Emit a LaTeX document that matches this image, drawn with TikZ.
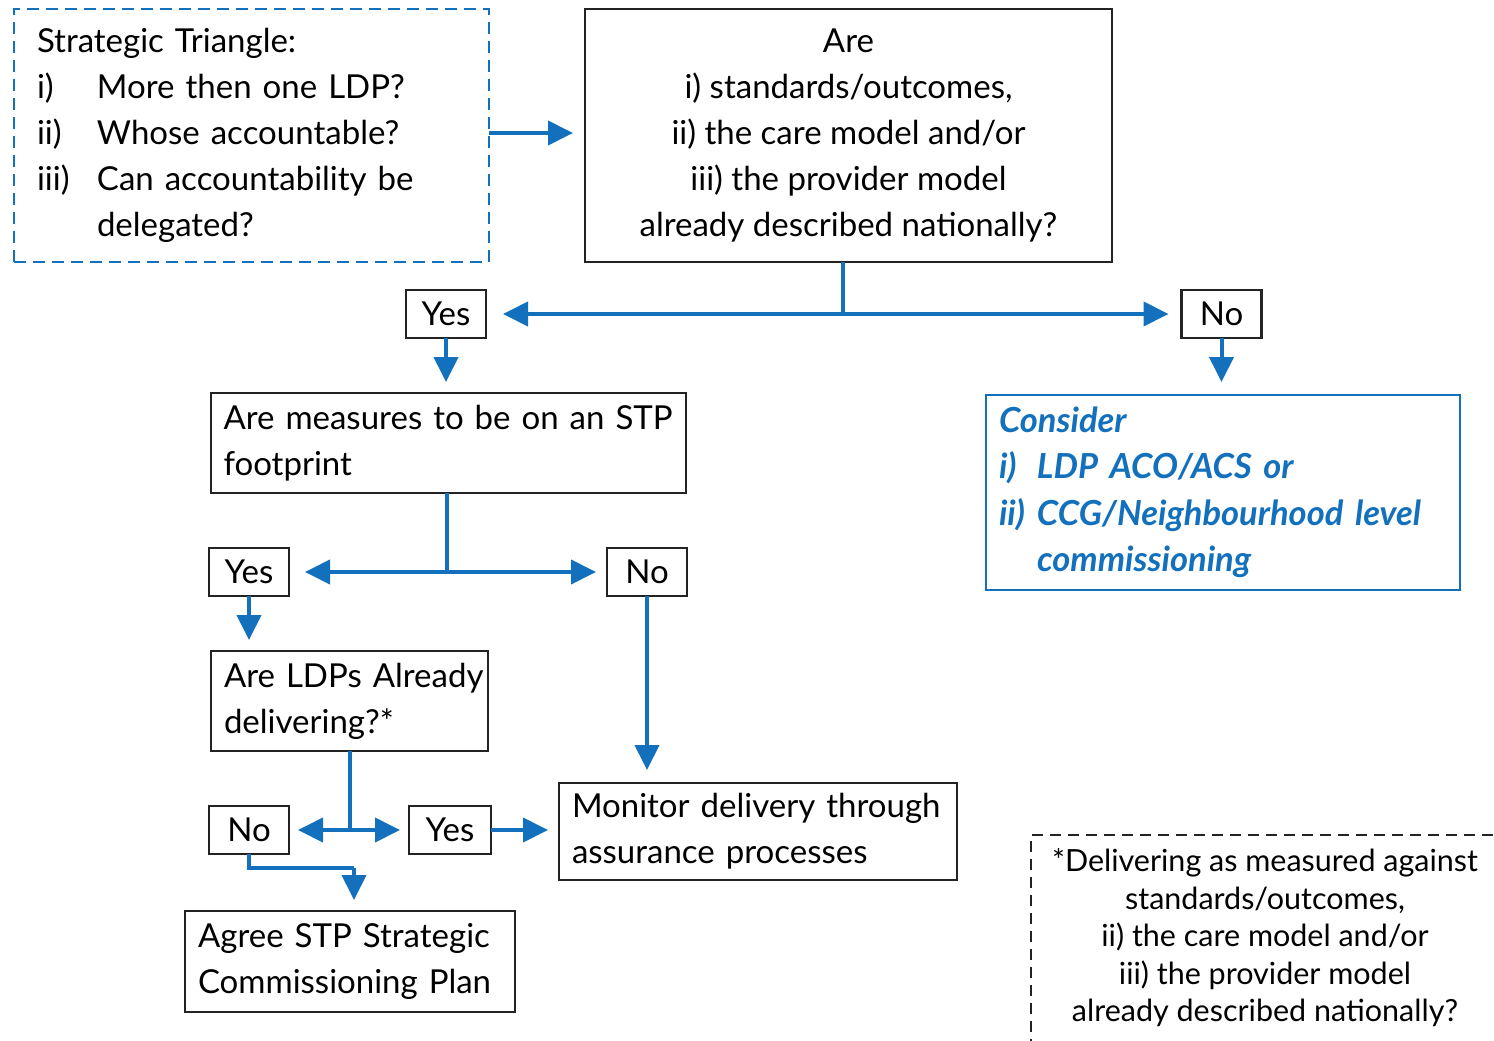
\documentclass[tikz,border=0pt]{standalone}
\usepackage{fontspec}
\setmainfont{Lato}
\usetikzlibrary{arrows.meta,calc}
\definecolor{flowblue}{RGB}{18,112,188}
\definecolor{boxline}{RGB}{35,35,35}
\begin{document}
\begin{tikzpicture}[x=1pt,y=-1pt,
  every node/.style={inner sep=0pt,outer sep=0pt},
  txt/.style={font=\fontsize{33}{46}\selectfont},
  smalltxt/.style={font=\fontsize{30.5}{37.5}\selectfont},
  frame/.style={draw=boxline,line width=2.6pt,rectangle,txt},
  ansbox/.style={frame,minimum width=80pt,minimum height=48pt},
  flow/.style={draw=flowblue,line width=4pt,-{Triangle[length=25pt,width=24pt]}},
  plain/.style={draw=flowblue,line width=4pt}]
\useasboundingbox (0,0) rectangle (1494,1041);

% strategic triangle box
\node[draw=flowblue,line width=2.4pt,dash pattern=on 12pt off 7pt,txt,
      minimum width=475pt,minimum height=253pt,text width=429pt,align=left]
  (tri) at (251.5,135.5)
  {\begin{tabular}{@{}p{60pt}@{}l@{}}
   \multicolumn{2}{@{}l@{}}{Strategic Triangle:}\\
   i) & More then one LDP?\\
   ii) & Whose accountable?\\
   iii) & Can accountability be\\
        & delegated?
   \end{tabular}};

% main question
\node[frame,minimum width=527pt,minimum height=253pt,align=center]
  (are) at (848.5,135.5)
  {Are\\ i) standards/outcomes,\\ ii) the care model and/or\\ iii) the provider model\\ already described nationally?};

\node[ansbox] (yes1) at (446,314) {Yes};
\node[ansbox] (no1) at (1221.5,314) {No};

\node[frame,minimum width=475pt,minimum height=100pt,text width=450pt,align=left]
  (meas) at (448.5,443) {Are measures to be on an STP\\ footprint};

\node[draw=flowblue,line width=2.2pt,rectangle,minimum width=474pt,minimum height=195pt,
      text width=448pt,align=left,text=flowblue,
      font=\fontsize{34.5}{46.5}\selectfont\bfseries\itshape]
  (cons) at (1223,492.5)
  {\begin{tabular}{@{}p{38pt}@{}l@{}}
   \multicolumn{2}{@{}l@{}}{Consider}\\
   i) & LDP ACO/ACS or\\
   ii) & CCG/Neighbourhood level\\
       & commissioning
   \end{tabular}};

\node[ansbox] (yes2) at (249,572) {Yes};
\node[ansbox] (no2) at (647,572) {No};

\node[frame,minimum width=277pt,minimum height=100pt,text width=251pt,align=left]
  (ldp) at (349.5,701) {\mbox{Are LDPs Already}\\ delivering?*};

\node[frame,minimum width=398pt,minimum height=97pt,text width=372pt,align=left]
  (mon) at (758,831.5) {Monitor delivery through\\ assurance processes};

\node[ansbox] (no3) at (249,830) {No};
\node[ansbox,minimum width=82pt] (yes3) at (450,830) {Yes};

\node[frame,minimum width=330pt,minimum height=101pt,text width=304pt,align=left]
  (agree) at (350,961.5) {Agree STP Strategic\\ Commissioning Plan};

% footnote box, running off the page edges
\draw[boxline,line width=2.2pt,dash pattern=on 11pt off 7pt]
  (1031,1050) -- (1031,835) -- (1500,835);
\node[smalltxt,align=center] (note) at (1265,938)
  {*Delivering as measured against\\ standards/outcomes,\\ ii) the care model and/or\\ iii) the provider model\\ already described nationally?};

% junctions
\coordinate (j1) at (843,314);
\coordinate (j2) at (447,572);
\coordinate (j3) at (ldp.south |- no3);
\coordinate (k) at (354,868);

% connectors
\draw[flow,shorten >=12pt] (tri.east |- 0,133) -- (are.west |- 0,133);
\draw[plain] (j1 |- are.south) -- (j1);
\draw[flow,shorten >=17pt] (j1) -- (yes1.east);
\draw[flow,shorten >=13pt] (j1) -- (no1.west);
\draw[flow,shorten >=11pt] (yes1.south) -- (yes1.south |- meas.north);
\draw[flow,shorten >=13pt] (no1.south) -- (no1.south |- cons.north);
\draw[plain] (j2 |- meas.south) -- (j2);
\draw[flow,shorten >=16pt] (j2) -- (yes2.east);
\draw[flow,shorten >=11pt] (j2) -- (no2.west);
\draw[flow,shorten >=11pt] (yes2.south) -- (yes2.south |- ldp.north);
\draw[flow,shorten >=13pt] (no2.south) -- (no2.south |- mon.north);
\draw[plain] (ldp.south) -- (j3);
\draw[flow,shorten >=9pt] (j3) -- (no3.east);
\draw[flow,shorten >=9pt] (j3) -- (yes3.west);
\draw[flow,shorten >=11pt] (yes3.east) -- (mon.west |- yes3);
\draw[plain] (no3.south) |- (k);
\draw[flow,shorten >=11pt] (k) -- (k |- agree.north);
\end{tikzpicture}
\end{document}
